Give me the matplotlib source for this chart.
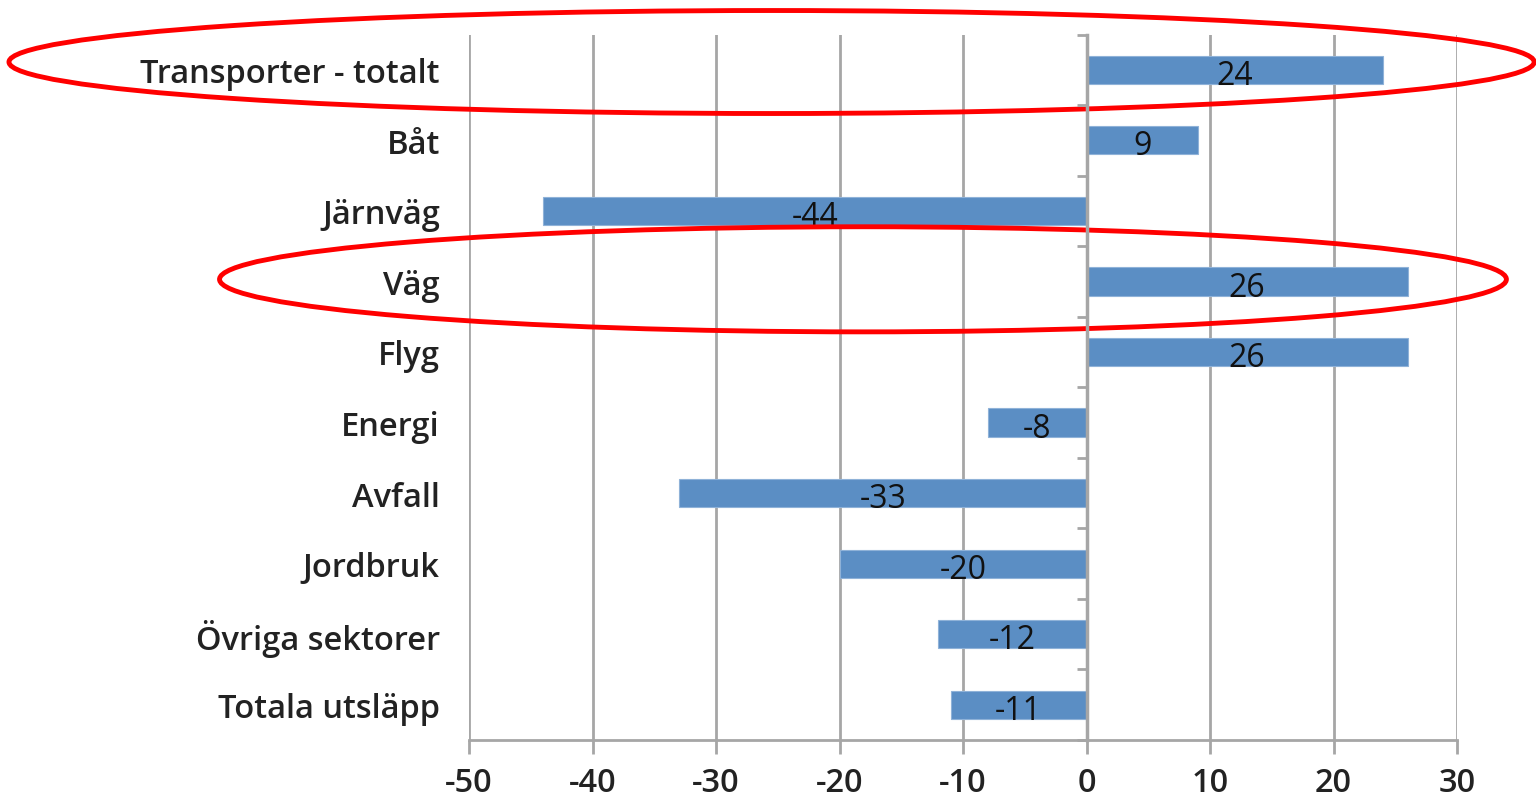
import matplotlib
matplotlib.use("Agg")
import matplotlib.pyplot as plt
from matplotlib.patches import Ellipse

categories = ["Transporter - totalt", "Båt", "Järnväg", "Väg", "Flyg", "Energi",
              "Avfall", "Jordbruk", "Övriga sektorer", "Totala utsläpp"]
values = [24, 9, -44, 26, 26, -8, -33, -20, -12, -11]
xticks = [-50, -40, -30, -20, -10, 0, 10, 20, 30]
highlighted = ["Transporter - totalt", "Väg"]

plt.rcParams['font.family'] = ['Open Sans', 'DejaVu Sans']

fig = plt.figure(figsize=(15.36, 8.04), dpi=100)
ax = fig.add_axes([469/1536, 1-741/804, (1457-469)/1536, (741-35.5)/804])

grid_c = '#a6a6a6'
bar_c = '#5b8ec4'
n = len(categories)
ypos = list(range(n))

ax.barh(ypos, values, height=0.4, color=bar_c, edgecolor='#8fb2d8', linewidth=0.8, zorder=3)
for y, v in zip(ypos, values):
    ax.text(v/2, y+0.08, f"{v}", ha='center', va='center', fontsize=23, color='#111111', zorder=4)

ax.set_xlim(-50, 30)
ax.set_ylim(n-0.5, -0.5)
ax.set_xticks(xticks)
ax.set_xticklabels([str(t) for t in xticks], fontsize=23.5, fontweight='semibold', color='#222222')
ax.set_yticks(ypos)
ax.set_yticklabels(categories, fontsize=23.5, fontweight='semibold', color='#222222')
ax.tick_params(axis='y', length=0, pad=21)
ax.tick_params(axis='x', length=10, width=2, color=grid_c, pad=9)
for s in ['top', 'right', 'left']:
    ax.spines[s].set_visible(False)
ax.spines['bottom'].set_color(grid_c)
ax.spines['bottom'].set_linewidth(2)
ax.grid(axis='x', color=grid_c, linewidth=2, zorder=0)
ax.set_axisbelow(True)

# zero axis with category boundary ticks
tw = ax.twinx()
tw.set_ylim(n-0.5, -0.5)
tw.spines['left'].set_position(('data', 0))
for s in ['top', 'right', 'bottom']:
    tw.spines[s].set_visible(False)
tw.spines['left'].set_color(grid_c)
tw.spines['left'].set_linewidth(2.5)
tw.yaxis.set_ticks_position('left')
tw.set_yticks([i + 0.5 for i in range(-1, n)])
tw.set_yticklabels([])
tw.tick_params(axis='y', length=7, width=2, color=grid_c, direction='out')
tw.patch.set_visible(False)

# red ellipses around highlighted rows
ell_specs = {"Transporter - totalt": (-25.5, -0.11, 123.5, 1.46),
             "Väg": (-18.1, -0.03, 104.2, 1.49)}
for name in highlighted:
    idx = categories.index(name)
    cx, dy, w, h = ell_specs[name]
    e = Ellipse((cx, idx + dy), w, h, fill=False, edgecolor='#ff0000', linewidth=3.5,
                clip_on=False, zorder=10)
    ax.add_patch(e)

fig.savefig("out.png", dpi=100)
